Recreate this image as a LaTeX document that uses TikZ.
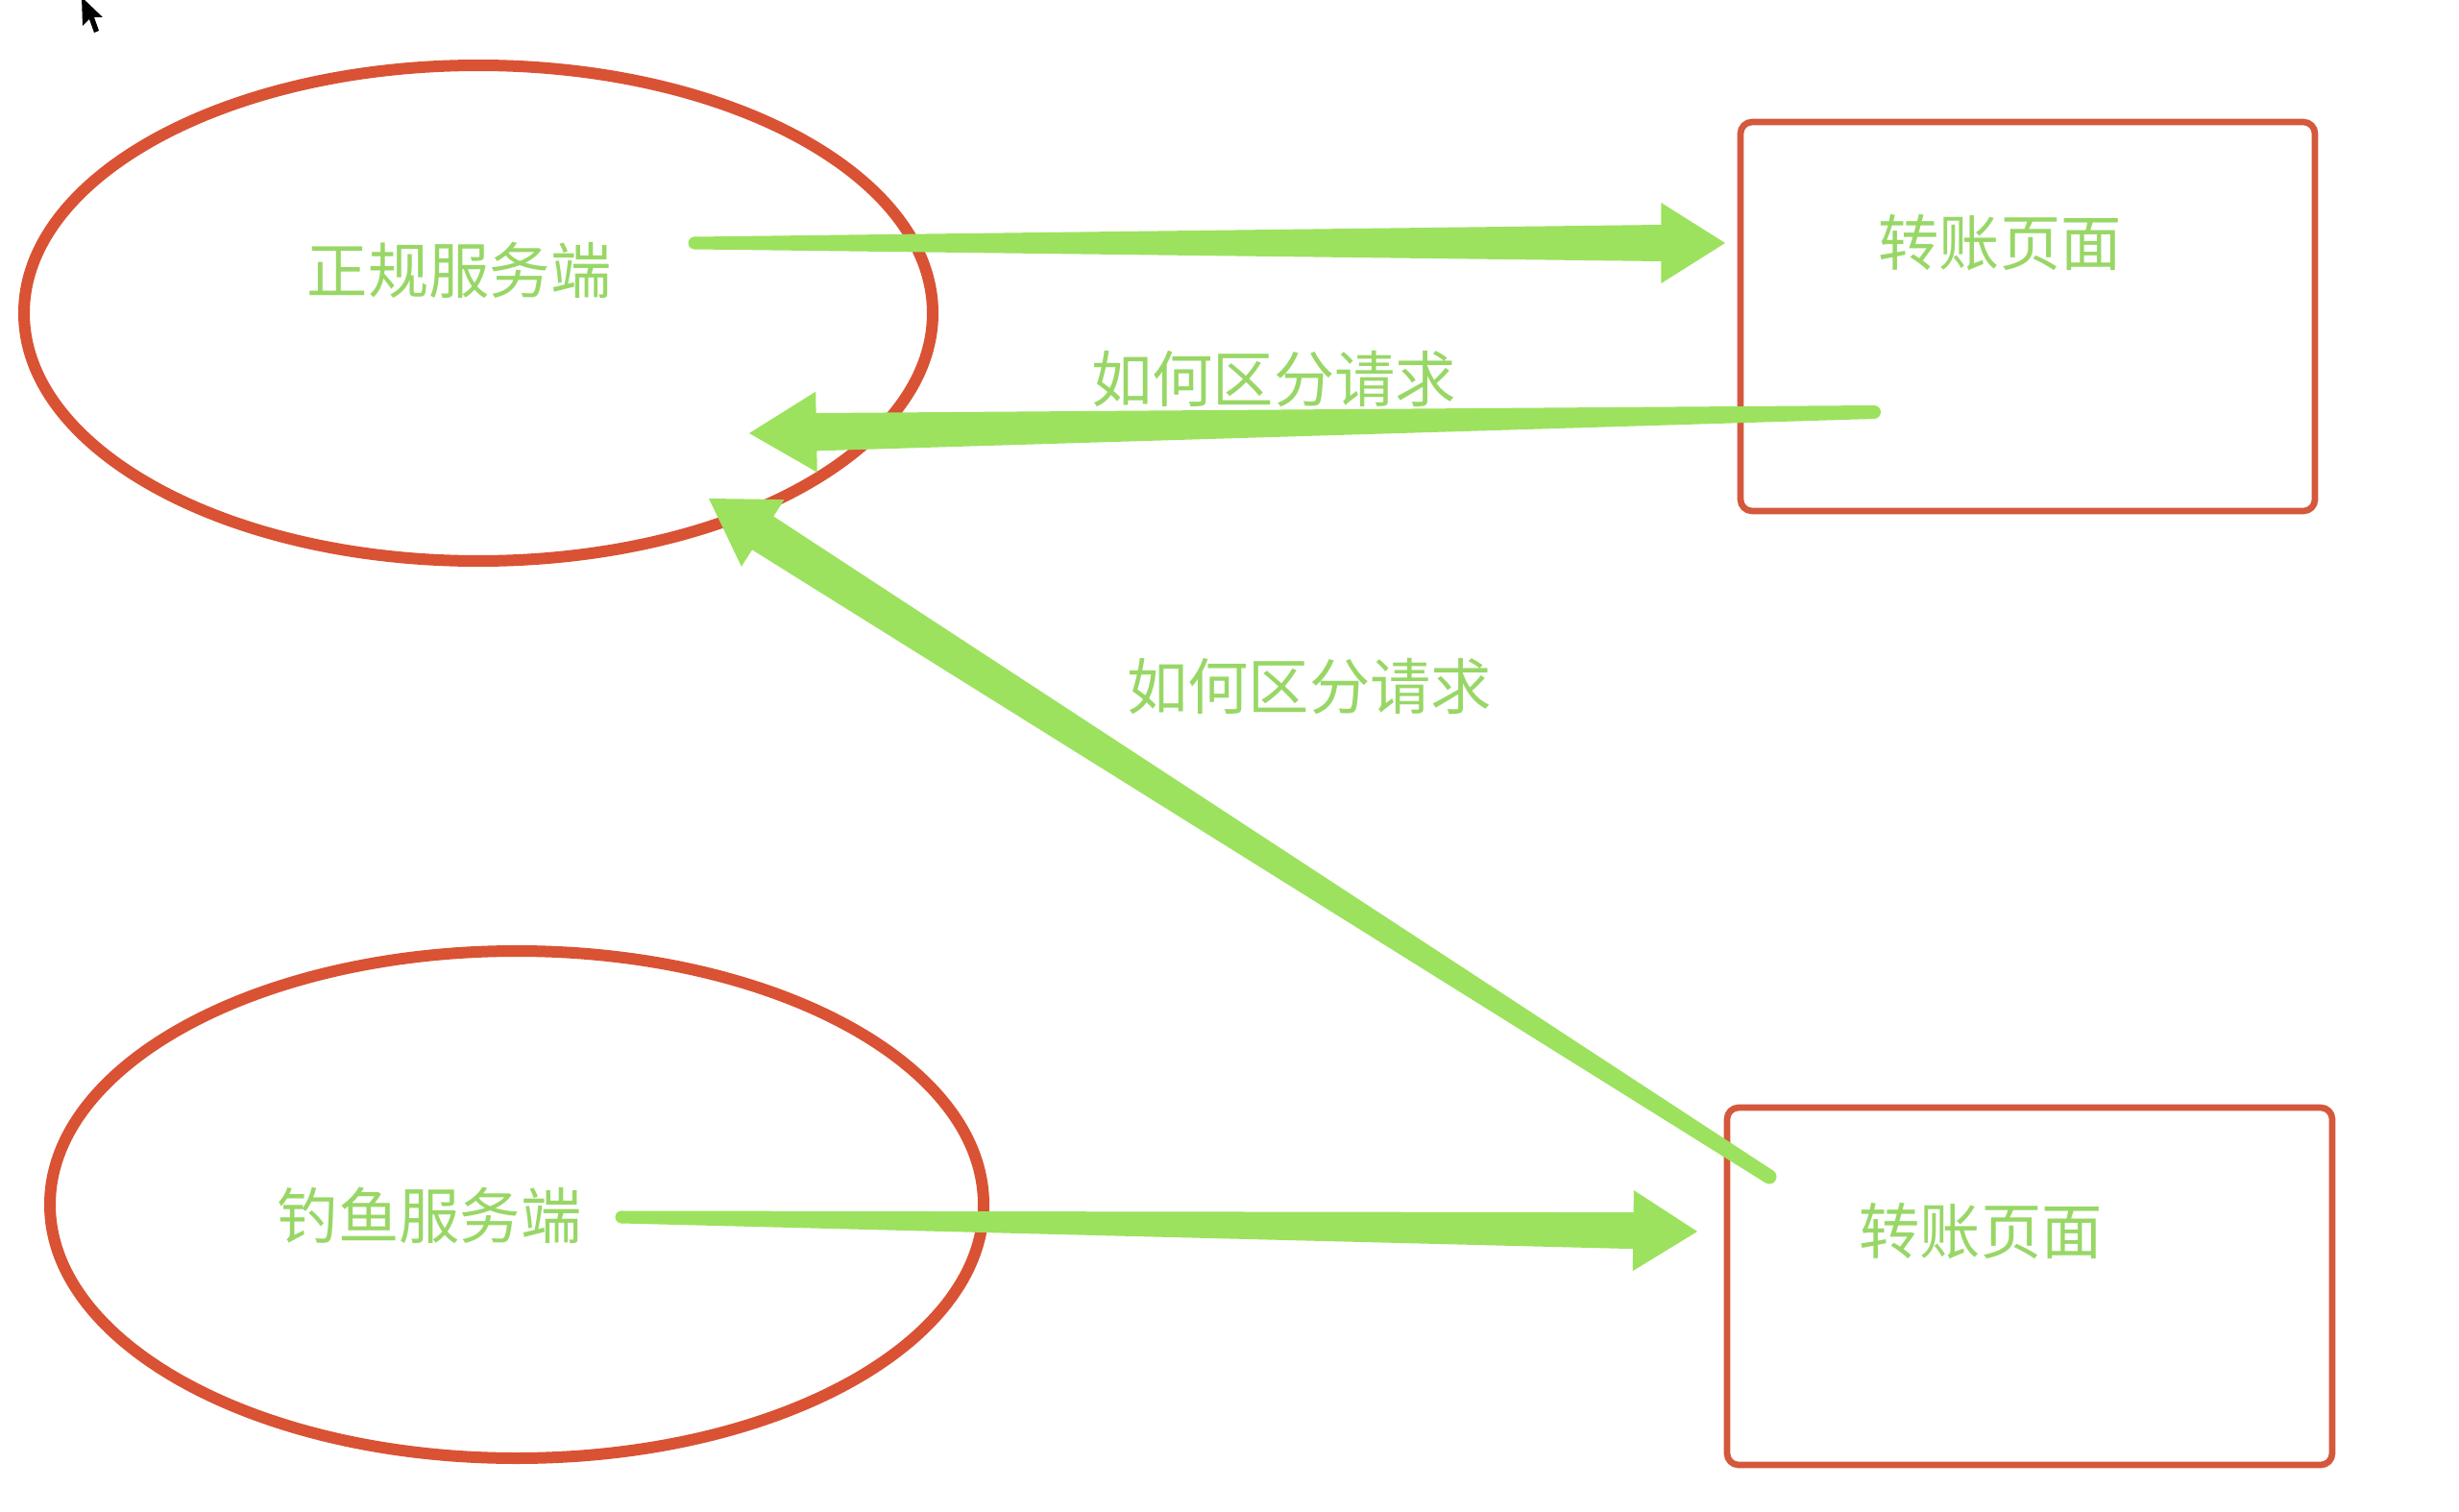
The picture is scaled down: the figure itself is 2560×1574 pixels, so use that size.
\documentclass[tikz,border=0pt]{standalone}
\usepackage{fontspec}
\newfontfamily\cjk{Noto Sans CJK SC}
\usetikzlibrary{shapes.geometric,calc}
\definecolor{ovalred}{RGB}{217,82,52}
\definecolor{boxred}{RGB}{212,88,60}
\definecolor{arrowgreen}{RGB}{156,226,94}
\definecolor{textgreen}{RGB}{152,215,102}
\tikzset{
  oval/.style={ellipse,draw=ovalred,line width=3.6pt,inner sep=0pt},
  pagebox/.style={rectangle,draw=boxred,line width=2pt,rounded corners=3.6pt,inner sep=0pt},
  lbl/.style={text=textgreen,font=\cjk\fontsize{19pt}{22pt}\selectfont,inner sep=0pt}
}
% #1 tail, #2 tip, #3 tail width, #4 shaft width at head, #5 head length, #6 head half width
\newcommand\taperarrow[6]{%
  \path ($(#2)!#5!(#1)$) coordinate (hb);
  \fill[arrowgreen] ($(#1)!#3/2!90:(#2)$) -- ($(hb)!#4/2!90:(#2)$) -- ($(hb)!#6!90:(#2)$) -- (#2)
    -- ($(hb)!#6!-90:(#2)$) -- ($(hb)!#4/2!-90:(#2)$) -- ($(#1)!#3/2!-90:(#2)$) -- cycle;
  \fill[arrowgreen] (#1) circle[radius=#3/2];
}
\begin{document}
\begin{tikzpicture}[x=0.3pt,y=-0.3pt]
\fill[white] (0,0) rectangle (2560,1574);
\useasboundingbox (0,0) rectangle (2560,1574);

% shapes
\node[oval,minimum width=283.8pt,minimum height=154.8pt] (srv) at (498,326) {};
\node[oval,minimum width=291.6pt,minimum height=158.4pt] (fake) at (538,1254) {};
\node[pagebox,minimum width=179.4pt,minimum height=121.5pt] (page1) at (2111,329.5) {};
\node[pagebox,minimum width=189pt,minimum height=111.6pt] (page2) at (2113,1339) {};

% labels
\node[lbl] (tsrv) at (478,281) {正规服务端};
\node[lbl] (tfake) at (447,1265) {钓鱼服务端};
\node[lbl] (tp1) at (2082,253) {转账页面};
\node[lbl] (tp2) at (2062,1282) {转账页面};
\node[lbl] (q1) at (1326,395) {如何区分请求};
\node[lbl] (q2) at (1363,715) {如何区分请求};

% arrow end points
\coordinate (a1s) at (723,253);
\coordinate (a1t) at (1796,253);
\coordinate (a2s) at (1951,429);
\coordinate (a2t) at (780,451);
\coordinate (a3s) at (1842,1225);
\coordinate (a3t) at (738,519);
\coordinate (a4s) at (647,1267);
\coordinate (a4t) at (1767,1282);

\taperarrow{a1s}{a1t}{3.9pt}{11.4pt}{20pt}{12.6pt}
\taperarrow{a2s}{a2t}{4.2pt}{11.8pt}{21pt}{12.6pt}
\taperarrow{a3s}{a3t}{4.5pt}{12.4pt}{20pt}{12.4pt}
\taperarrow{a4s}{a4t}{3.9pt}{11.4pt}{20pt}{12.6pt}

% mouse cursor
\fill[black] (85,-3) -- (86,27) -- (93,20) -- (98,34) -- (103,32) -- (98,18) -- (107,18) -- cycle;
\end{tikzpicture}
\end{document}
